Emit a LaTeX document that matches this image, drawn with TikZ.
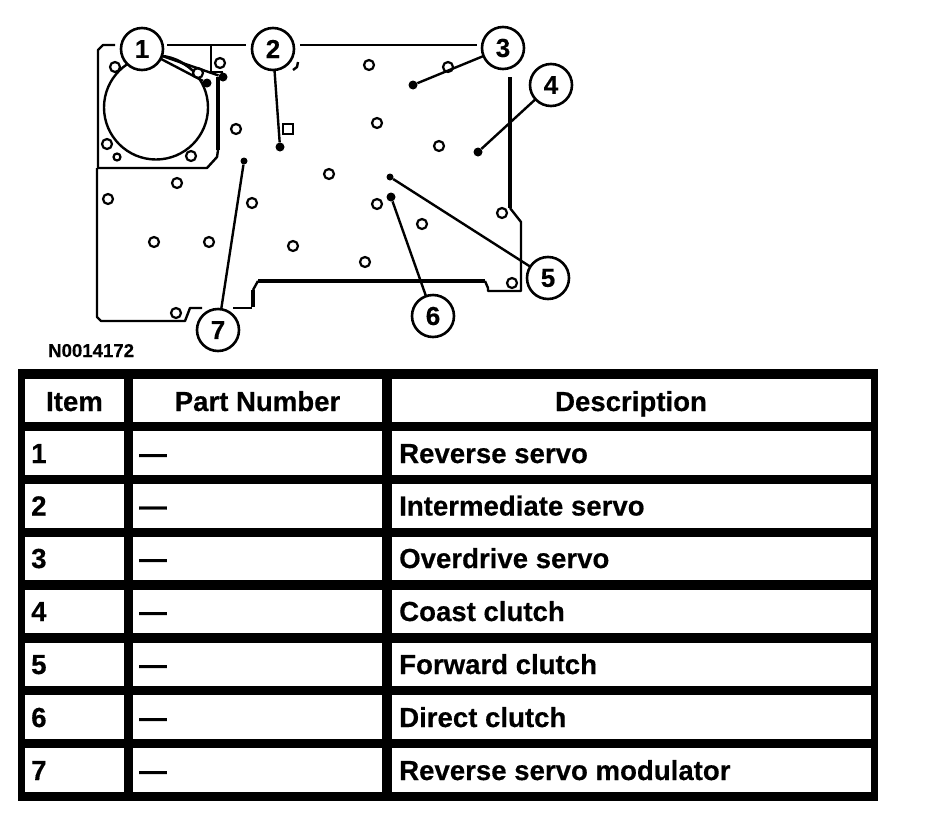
\documentclass[tikz,border=0pt]{standalone}
\usepackage{fontspec}
\setmainfont[BoldFeatures={FakeBold=0.4}]{Liberation Sans}
\begin{document}
\begin{tikzpicture}[x=1pt,y=-1pt,
  outline/.style={line width=2.4pt,line join=round},
  heavy/.style={line width=3.8pt},
  leader/.style={line width=2.4pt,shorten <=-1pt},
  hole/.style={circle,draw,line width=2.2pt,fill=white,minimum size=10pt,inner sep=0pt},
  dot/.style={circle,fill=black,minimum size=9pt,inner sep=0pt},
  callout/.style={circle,draw,line width=2.6pt,fill=white,minimum size=42pt,inner sep=0pt,font=\fontsize{26}{26}\bfseries},
  rule/.style={fill=black},
  cellc/.style={anchor=base,font=\fontsize{27.6}{27.6}\bfseries},
  celll/.style={anchor=base west,inner sep=0pt,font=\fontsize{27.6}{27.6}\bfseries}]
\useasboundingbox (0,0) rectangle (928,814);
% casting outline
\draw[outline] (115,45) -- (103,45) -- (98,50) -- (98,168);
\draw[outline] (167,45) -- (246,45);
\draw[outline] (211,45) -- (211,72) -- (223,72);
\draw[outline] (300,45) -- (477,45);
\draw[outline] (97,168) -- (207,168) -- (217,157) -- (218,150);
\draw[heavy] (218,77) -- (218,150);
\draw[outline] (97,168) -- (97,317) -- (101,321) -- (185,321) -- (190,308) -- (202,308);
\draw[outline] (233,308) -- (252,308);
\draw[heavy] (253,307) -- (253,290);
\draw[outline] (253,290) -- (258,281);
\draw[heavy] (258,281) -- (485,281);
\draw[outline] (485,281) -- (488,288) -- (488,291) -- (521,291) -- (521,222) -- (510,208);
\draw[heavy] (510,208) -- (510,77);
\draw[outline] (298,62) -- (297,67) -- (293,70);
% large bore
\draw[line width=2.4pt] (156,107.5) circle[radius=52];
\draw[line width=2pt] (166,57) to[bend left=14] (200,77);
% holes
\node[hole] (h1) at (115,67) {};
\node[hole] (h2) at (220,63) {};
\node[hole] (h3) at (198,73) {};
\node[hole] (h4) at (107,144) {};
\node[hole,minimum size=7pt] (h5) at (117,157) {};
\node[hole] (h6) at (191,156) {};
\node[hole] (h7) at (236,129) {};
\node[hole,rectangle] (h8) at (288,129) {};
\node[hole] (h9) at (177,183) {};
\node[hole] (h10) at (108,199) {};
\node[hole] (h11) at (154,242) {};
\node[hole] (h12) at (209,242) {};
\node[hole] (h13) at (252,203) {};
\node[hole] (h14) at (293,246) {};
\node[hole] (h15) at (176,313) {};
\node[hole] (h16) at (329,174) {};
\node[hole] (h17) at (369,65) {};
\node[hole] (h18) at (448,67) {};
\node[hole] (h19) at (377,123) {};
\node[hole] (h20) at (439,146) {};
\node[hole] (h21) at (377,204) {};
\node[hole] (h22) at (422,224) {};
\node[hole] (h23) at (365,262) {};
\node[hole] (h24) at (502,213) {};
\node[hole] (h25) at (512,283) {};
% pressure points
\node[dot] (d1a) at (207,83) {};
\node[dot] (d1b) at (223,77) {};
\node[dot] (d2) at (280,147) {};
\node[dot] (d3) at (413,85) {};
\node[dot] (d4) at (478,152) {};
\node[dot,minimum size=7pt] (d5) at (390,177) {};
\node[dot] (d6) at (391,197) {};
\node[dot,minimum size=7pt] (d7) at (244,161) {};
% callouts
\node[callout] (c1) at (142,49) {1};
\node[callout] (c2) at (273,49) {2};
\node[callout] (c3) at (503,48) {3};
\node[callout] (c4) at (551,85) {4};
\node[callout] (c5) at (548,278) {5};
\node[callout] (c6) at (433,316) {6};
\node[callout] (c7) at (218,330) {7};
% leaders
\draw[leader] (c1) -- (d1a);
\draw[leader] (c1) -- (d1b);
\draw[leader] (c2) -- (d2);
\draw[leader] (c3) -- (d3);
\draw[leader] (c4) -- (d4);
\draw[leader] (c5) -- (d5);
\draw[leader] (c6) -- (d6);
\draw[leader] (c7) -- (d7);
\node[anchor=base west,inner sep=0pt,font=\fontsize{18.6}{18.6}\bfseries] (fig) at (48,357) {N0014172};
% table rules
\foreach \y/\h in {369/379,422/431,475/484,528/537,580/590,633/643,686/695,739/748,792/801}
  \fill[rule] (18,\y) rectangle (878,\h);
\foreach \x/\w in {18/25,124/133,382/392,871/878}
  \fill[rule] (\x,369) rectangle (\w,801);
% table text
\node[cellc] (t0a) at (74.5,411) {Item};
\node[cellc] (t0b) at (257.5,411) {Part Number};
\node[cellc] (t0c) at (631,411) {Description};
\foreach \i/\b/\d in {1/463/Reverse servo,2/515.5/Intermediate servo,3/568/Overdrive servo,4/621/Coast clutch,5/674/Forward clutch,6/727/Direct clutch,7/780/Reverse servo modulator}{
  \node[celll] (ti\i) at (31,\b) {\i};
  \node[celll] (tp\i) at (139,\b) {—};
  \node[celll] (td\i) at (399,\b) {\d};
}
\end{tikzpicture}
\end{document}
